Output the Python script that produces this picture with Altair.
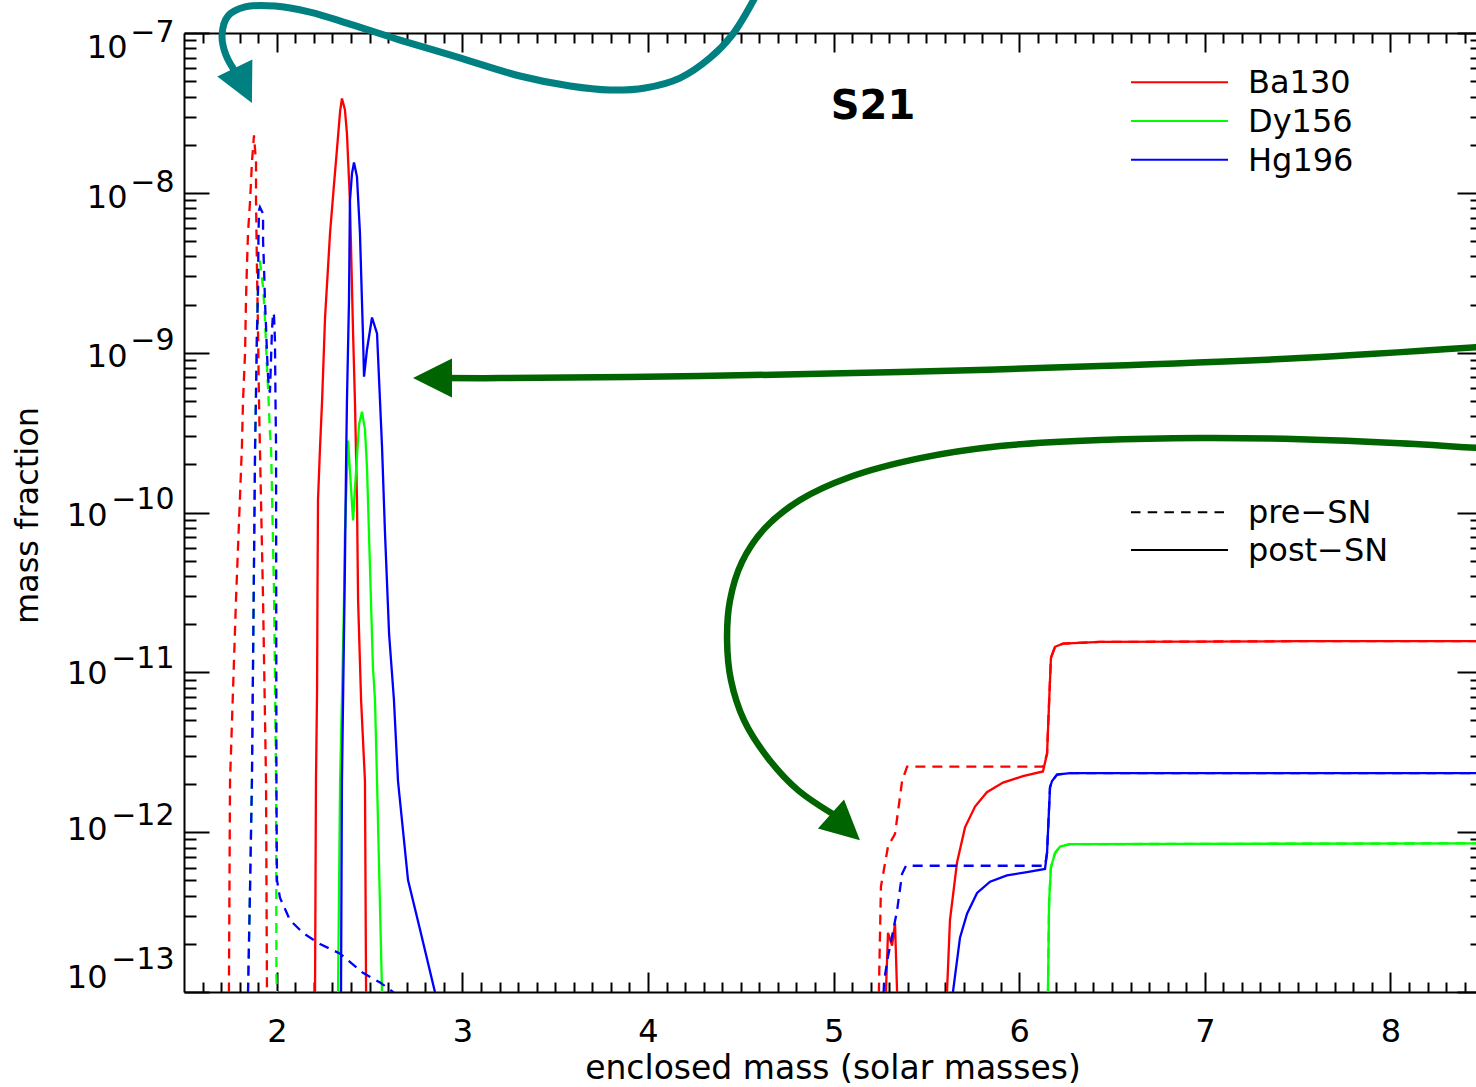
import altair as alt
import pandas as pd
from itertools import zip_longest

FONT = "DejaVu Sans"
W, H = 1292, 959
X_DOMAIN = [1.5, 8.4612]
Y_DOMAIN = [1e-13, 1e-7]

# ---------------- text / ticks ----------------
isotopes = ["Ba130", "Dy156", "Hg196"]
iso_colors = ["#ff0000", "#00ff00", "#0000ff"]
stage_labels = ["pre\u2212SN", "post\u2212SN"]
panel_label = "S21"
x_title = "enclosed mass (solar masses)"
y_title = "mass fraction"
x_major = [2, 3, 4, 5, 6, 7, 8]
x_minor = [round(1.5 + 0.1 * k, 1) for k in range(1, 70) if k % 10 != 5]
y_major = [1e-7, 1e-8, 1e-9, 1e-10, 1e-11, 1e-12, 1e-13]
y_minor = [m * 10.0 ** p for p in range(-13, -7) for m in range(2, 10)]
y_base_label = "10"
y_exp_labels = ["\u22127", "\u22128", "\u22129", "\u221210", "\u221211", "\u221212", "\u221213"]

# ---------------- data: enclosed mass, log10(mass fraction) ----------------
# Ba130 pre-SN
ba_pre1_x = [1.737, 1.742, 1.748, 1.780, 1.812, 1.818, 1.829, 1.834, 1.839, 1.845, 1.856, 1.866,
             1.877, 1.888, 1.888, 1.893, 1.899, 1.904, 1.909, 1.926, 1.942, 1.947, 1.950]
ba_pre1_e = [-13.11, -13.0, -11.68, -10.55, -9.59, -9.30, -9.00, -8.67, -8.46, -8.25, -8.05, -7.81,
             -7.64, -7.81, -8.05, -8.46, -8.88, -9.30, -9.59, -10.55, -11.68, -13.0, -13.11]
ba_pre2_x = [5.239, 5.244, 5.255, 5.293, 5.331, 5.369, 5.396, 6.128, 6.150, 6.161, 6.171, 6.193,
             6.236, 6.435, 7.513, 8.483]
ba_pre2_e = [-13.11, -13.0, -12.34, -12.09, -12.01, -11.68, -11.59, -11.59, -11.51, -11.19, -10.91,
             -10.84, -10.82, -10.81, -10.805, -10.805]
# Dy156 pre-SN
dy_pre1_x = [1.839, 1.845, 1.856, 1.866, 1.883, 1.888, 1.893, 1.899, 1.904, 1.909, 1.926, 1.936,
             1.947, 1.953, 1.963, 1.969, 1.985, 1.996, 1.998, 2.001, 2.003]
dy_pre1_e = [-13.11, -13.0, -12.34, -11.68, -9.59, -9.25, -8.88, -8.59, -8.43, -8.43, -8.59, -8.78,
             -9.09, -9.22, -9.50, -9.59, -10.5, -11.68, -12.9, -13.0, -13.11]
dy_pre2_x = [6.150, 6.155, 6.161, 6.171, 6.193, 6.220, 6.274, 8.483]
dy_pre2_e = [-13.11, -13.0, -12.44, -12.22, -12.13, -12.09, -12.075, -12.07]
# Hg196 pre-SN
hg_pre1_x = [1.839, 1.845, 1.856, 1.866, 1.883, 1.888, 1.893, 1.899, 1.901, 1.904, 1.909, 1.926,
             1.926, 1.931, 1.936, 1.942, 1.947, 1.953, 1.958, 1.963, 1.974, 1.980, 1.985, 1.990,
             1.993, 1.996, 1.998, 2.001, 2.017, 2.071, 2.141, 2.233, 2.341, 2.464, 2.556, 2.626, 2.664]
hg_pre1_e = [-13.11, -13.0, -12.34, -11.68, -9.59, -9.25, -8.88, -8.59, -8.30, -8.11, -8.09, -8.13,
             -8.30, -8.46, -8.67, -8.84, -9.00, -9.15, -9.22, -9.25, -8.86, -8.75, -8.77, -8.92,
             -9.30, -9.59, -11.68, -12.30, -12.41, -12.55, -12.63, -12.70, -12.76, -12.88, -12.94,
             -13.0, -13.08]
hg_pre2_x = [5.266, 5.272, 5.293, 5.342, 5.369, 5.390, 6.139, 6.150, 6.166, 6.177, 6.204, 6.274, 8.483]
hg_pre2_e = [-13.11, -12.93, -12.78, -12.49, -12.26, -12.21, -12.21, -12.13, -11.72, -11.68, -11.64,
             -11.63, -11.63]
# Ba130 post-SN
ba_post1_x = [2.200, 2.206, 2.211, 2.217, 2.219, 2.222, 2.233, 2.244, 2.260, 2.287, 2.308, 2.324,
              2.341, 2.351, 2.367, 2.378, 2.394, 2.411, 2.421, 2.432, 2.438, 2.454, 2.475, 2.481, 2.486]
ba_post1_e = [-13.11, -13.0, -11.68, -11.11, -10.55, -9.92, -9.59, -9.30, -8.78, -8.25, -7.95, -7.73,
              -7.49, -7.41, -7.48, -7.63, -8.05, -8.88, -9.30, -9.92, -10.55, -11.17, -11.68, -13.0,
              -13.11]
ba_post2_x = [5.277, 5.282, 5.293, 5.315, 5.331, 5.342, 5.347]
ba_post2_e = [-13.11, -13.0, -12.63, -12.71, -12.57, -13.0, -13.11]
ba_post3_x = [5.606, 5.611, 5.627, 5.665, 5.708, 5.762, 5.826, 5.913, 6.020, 6.128, 6.150, 6.161,
              6.171, 6.193, 6.236, 6.435, 7.513, 8.483]
ba_post3_e = [-13.11, -13.0, -12.55, -12.19, -11.97, -11.84, -11.75, -11.69, -11.65, -11.62, -11.51,
              -11.19, -10.91, -10.84, -10.82, -10.81, -10.805, -10.805]
# Dy156 post-SN
dy_post1_x = [2.324, 2.330, 2.341, 2.351, 2.362, 2.367, 2.378, 2.384, 2.394, 2.411, 2.427, 2.443,
              2.459, 2.475, 2.486, 2.502, 2.518, 2.529, 2.540, 2.567, 2.572]
dy_post1_e = [-13.11, -13.0, -11.68, -11.17, -10.55, -10.13, -9.74, -9.55, -9.74, -10.05, -9.74, -9.45,
              -9.37, -9.48, -9.72, -10.34, -10.97, -11.17, -11.68, -13.0, -13.11]
dy_post2_x = [6.150, 6.155, 6.161, 6.171, 6.193, 6.220, 6.274, 8.483]
dy_post2_e = [-13.11, -13.0, -12.44, -12.22, -12.13, -12.09, -12.075, -12.07]
# Hg196 post-SN
hg_post1_x = [2.341, 2.346, 2.351, 2.357, 2.367, 2.373, 2.378, 2.389, 2.394, 2.405, 2.416, 2.432,
              2.448, 2.464, 2.470, 2.486, 2.513, 2.540, 2.556, 2.567, 2.583, 2.605, 2.631, 2.653,
              2.707, 2.772, 2.852, 2.863]
hg_post1_e = [-13.11, -13.0, -11.68, -11.17, -10.34, -9.72, -9.30, -8.67, -8.05, -7.88, -7.81, -7.90,
              -8.25, -8.88, -9.15, -8.98, -8.78, -8.88, -9.30, -9.59, -10.13, -10.76, -11.17, -11.68,
              -12.30, -12.61, -13.0, -13.11]
hg_post2_x = [5.638, 5.643, 5.681, 5.719, 5.773, 5.843, 5.934, 6.042, 6.139, 6.150, 6.166, 6.177,
              6.204, 6.274, 8.483]
hg_post2_e = [-13.11, -13.0, -12.66, -12.51, -12.38, -12.31, -12.27, -12.25, -12.23, -12.13, -11.72,
              -11.68, -11.64, -11.63, -11.63]

# annotation arrows (data coordinates: mass, log10 fraction)
teal_x = [4.603, 4.539, 4.453, 4.334, 4.172, 3.984, 3.795, 3.580, 3.310, 2.987, 2.664, 2.394,
          2.179, 1.990, 1.829, 1.737, 1.705, 1.726, 1.791]
teal_e = [-6.718, -6.856, -7.013, -7.156, -7.282, -7.344, -7.357, -7.332, -7.269, -7.156, -7.044,
          -6.944, -6.869, -6.831, -6.837, -6.894, -7.013, -7.138, -7.269]
green1_x = [8.483, 7.513, 6.435, 5.358, 4.280, 3.203, 2.879]
green1_e = [-8.965, -9.034, -9.084, -9.121, -9.146, -9.159, -9.159]
green2_x = [8.483, 8.052, 7.513, 6.974, 6.435, 5.897, 5.466, 5.088, 4.819, 4.630, 4.506, 4.442,
            4.426, 4.447, 4.517, 4.647, 4.808, 5.024]
green2_e = [-9.597, -9.566, -9.541, -9.534, -9.547, -9.584, -9.660, -9.778, -9.922, -10.098, -10.310,
            -10.548, -10.798, -11.049, -11.299, -11.537, -11.737, -11.906]
head_x = [1.866, 2.734, 5.142]
head_e = [-7.438, -9.159, -12.050]
head_angle = [154, 270, 132]
head_color = ["#008080", "#006400", "#006400"]

SERIES = {
    ("Ba130", "pre"): [(ba_pre1_x, ba_pre1_e), (ba_pre2_x, ba_pre2_e)],
    ("Dy156", "pre"): [(dy_pre1_x, dy_pre1_e), (dy_pre2_x, dy_pre2_e)],
    ("Hg196", "pre"): [(hg_pre1_x, hg_pre1_e), (hg_pre2_x, hg_pre2_e)],
    ("Ba130", "post"): [(ba_post1_x, ba_post1_e), (ba_post2_x, ba_post2_e), (ba_post3_x, ba_post3_e)],
    ("Dy156", "post"): [(dy_post1_x, dy_post1_e), (dy_post2_x, dy_post2_e)],
    ("Hg196", "post"): [(hg_post1_x, hg_post1_e), (hg_post2_x, hg_post2_e)],
}


def series_df(segments):
    rows = []
    for s, (xs, es) in enumerate(segments):
        for i, (x, e) in enumerate(zip(xs, es)):
            rows.append({"x": x, "y": 10.0 ** e, "seg": s, "i": i})
    return pd.DataFrame(rows)


def path_df(xs, es):
    return pd.DataFrame({"x": xs, "y": [10.0 ** e for e in es], "i": list(range(len(xs)))})


xscale = alt.Scale(domain=X_DOMAIN, nice=False, zero=False)
yscale = alt.Scale(type="log", domain=Y_DOMAIN, nice=False)

BASE_AXIS = dict(grid=False, labelFont=FONT, labelColor="black", tickColor="black",
                 domainColor="black", tickWidth=2, domainWidth=2, labelFlush=False,
                 labelOverlap=False, titleFont=FONT, titleColor="black",
                 titleFontWeight="normal", title=None)


def axis(**kw):
    d = dict(BASE_AXIS)
    d.update(kw)
    return alt.Axis(**d)


x_axes = [
    axis(orient="bottom", values=x_major, format=".0f", ticks=False, domain=True,
         labelFontSize=32, labelPadding=49, labelBaseline="alphabetic", labelAlign="center",
         title=x_title, titleFontSize=33, titleX=648.5, titleY=86,
         titleBaseline="alphabetic", titleAlign="center"),
    axis(orient="top", offset=-H, values=x_major, labels=False, domain=False, tickSize=20),
    axis(orient="top", offset=-H, values=x_minor, labels=False, domain=False, tickSize=10),
    axis(orient="bottom", offset=-H, values=x_major, labels=False, domain=True, tickSize=19),
    axis(orient="bottom", offset=-H, values=x_minor, labels=False, domain=False, tickSize=10),
]

base_off = [24, 14.2, 14.3, 12.5, 10.7, 7.8, -5]
exp_off = [8, -1.8, -2.7, -4.5, -5.3, -7.2, -24]
base_pad = [57, 57, 57, 77, 77, 77, 77]

y_axes = []
for k in range(len(y_major)):
    extra = {}
    if k == 0:
        extra = dict(title=y_title, titleFontSize=32, titleAngle=270, titleX=-147, titleY=482,
                     titleBaseline="alphabetic", titleAlign="center")
    y_axes.append(axis(orient="left", values=[y_major[k]], labelExpr="'%s'" % y_base_label,
                       ticks=False, domain=(k == 0), labelFontSize=32, labelAlign="right",
                       labelBaseline="alphabetic", labelPadding=base_pad[k],
                       labelOffset=base_off[k], **extra))
    y_axes.append(axis(orient="left", values=[y_major[k]], labelExpr="'%s'" % y_exp_labels[k],
                       ticks=False, domain=False, labelFontSize=30, labelAlign="right",
                       labelBaseline="alphabetic", labelPadding=10, labelOffset=exp_off[k]))
y_axes += [
    axis(orient="right", offset=-W, values=y_major, labels=False, domain=False, tickSize=25),
    axis(orient="right", offset=-W, values=y_minor, labels=False, domain=False, tickSize=12),
    axis(orient="left", offset=-W, values=y_major, labels=False, domain=False, tickSize=19),
    axis(orient="left", offset=-W, values=y_minor, labels=False, domain=False, tickSize=6),
]

layers = []
carrier = pd.DataFrame({"x": [5.0], "y": [1e-10]})
for xa, ya in zip_longest(x_axes, y_axes):
    layers.append(alt.Chart(carrier).mark_point(opacity=0).encode(
        x=alt.X("x:Q", scale=xscale, axis=xa),
        y=alt.Y("y:Q", scale=yscale, axis=ya)))

for stage, dash in [("post", None), ("pre", [10, 7])]:
    for iso, col in zip(isotopes, iso_colors):
        mk = dict(color=col, strokeWidth=2.3, clip=True)
        if dash:
            mk["strokeDash"] = dash
        layers.append(alt.Chart(series_df(SERIES[(iso, stage)])).mark_line(**mk).encode(
            x=alt.X("x:Q", scale=xscale, axis=None),
            y=alt.Y("y:Q", scale=yscale, axis=None),
            detail="seg:N", order="i:Q"))

for xs, es, col, sw in [(teal_x, teal_e, "#008080", 7), (green1_x, green1_e, "#006400", 6.5),
                        (green2_x, green2_e, "#006400", 6.5)]:
    layers.append(alt.Chart(path_df(xs, es)).mark_line(
        color=col, strokeWidth=sw, interpolate="catmull-rom", strokeCap="butt").encode(
        x=alt.X("x:Q", scale=xscale, axis=None),
        y=alt.Y("y:Q", scale=yscale, axis=None),
        order="i:Q"))

heads = pd.DataFrame({"x": head_x, "y": [10.0 ** e for e in head_e],
                      "angle": head_angle, "color": head_color})
layers.append(alt.Chart(heads).mark_point(
    shape="M0,0L1,2L-1,2Z", size=1521, filled=True, opacity=1, strokeWidth=0).encode(
    x=alt.X("x:Q", scale=xscale, axis=None),
    y=alt.Y("y:Q", scale=yscale, axis=None),
    angle=alt.Angle("angle:Q", scale=None),
    color=alt.Color("color:N", scale=None)))

one = pd.DataFrame({"a": [0]})
layers.append(alt.Chart(one).mark_text(
    text=panel_label, font=FONT, fontSize=40, fontWeight="bold", align="center",
    baseline="alphabetic", color="black").encode(x=alt.value(689), y=alt.value(86)))

for k, (lab, col) in enumerate(zip(isotopes, iso_colors)):
    yy = 49.3 + 38.7 * k
    layers.append(alt.Chart(one).mark_rule(color=col, strokeWidth=2).encode(
        x=alt.value(947), x2=alt.value(1044), y=alt.value(yy)))
    layers.append(alt.Chart(one).mark_text(
        text=lab, font=FONT, fontSize=32, align="left", baseline="alphabetic",
        color="black").encode(x=alt.value(1064), y=alt.value(yy + 11)))

for k, lab in enumerate(stage_labels):
    yy = 479.3 + 37.7 * k
    mk = dict(color="black", strokeWidth=2)
    if k == 0:
        mk["strokeDash"] = [9.5, 7.2]
    layers.append(alt.Chart(one).mark_rule(**mk).encode(
        x=alt.value(947), x2=alt.value(1044), y=alt.value(yy)))
    layers.append(alt.Chart(one).mark_text(
        text=lab, font=FONT, fontSize=32, align="left", baseline="alphabetic",
        color="black").encode(x=alt.value(1064), y=alt.value(yy + 11)))

chart = alt.layer(*layers).resolve_axis(x="independent", y="independent").properties(
    width=W, height=H,
    padding={"left": 184, "top": 33, "right": 0, "bottom": 95},
    autosize=alt.AutoSizeParams(type="none"),
    background="white",
).configure_view(stroke=None)

chart.save("out.html", embed_options={"renderer": "svg", "actions": False})
